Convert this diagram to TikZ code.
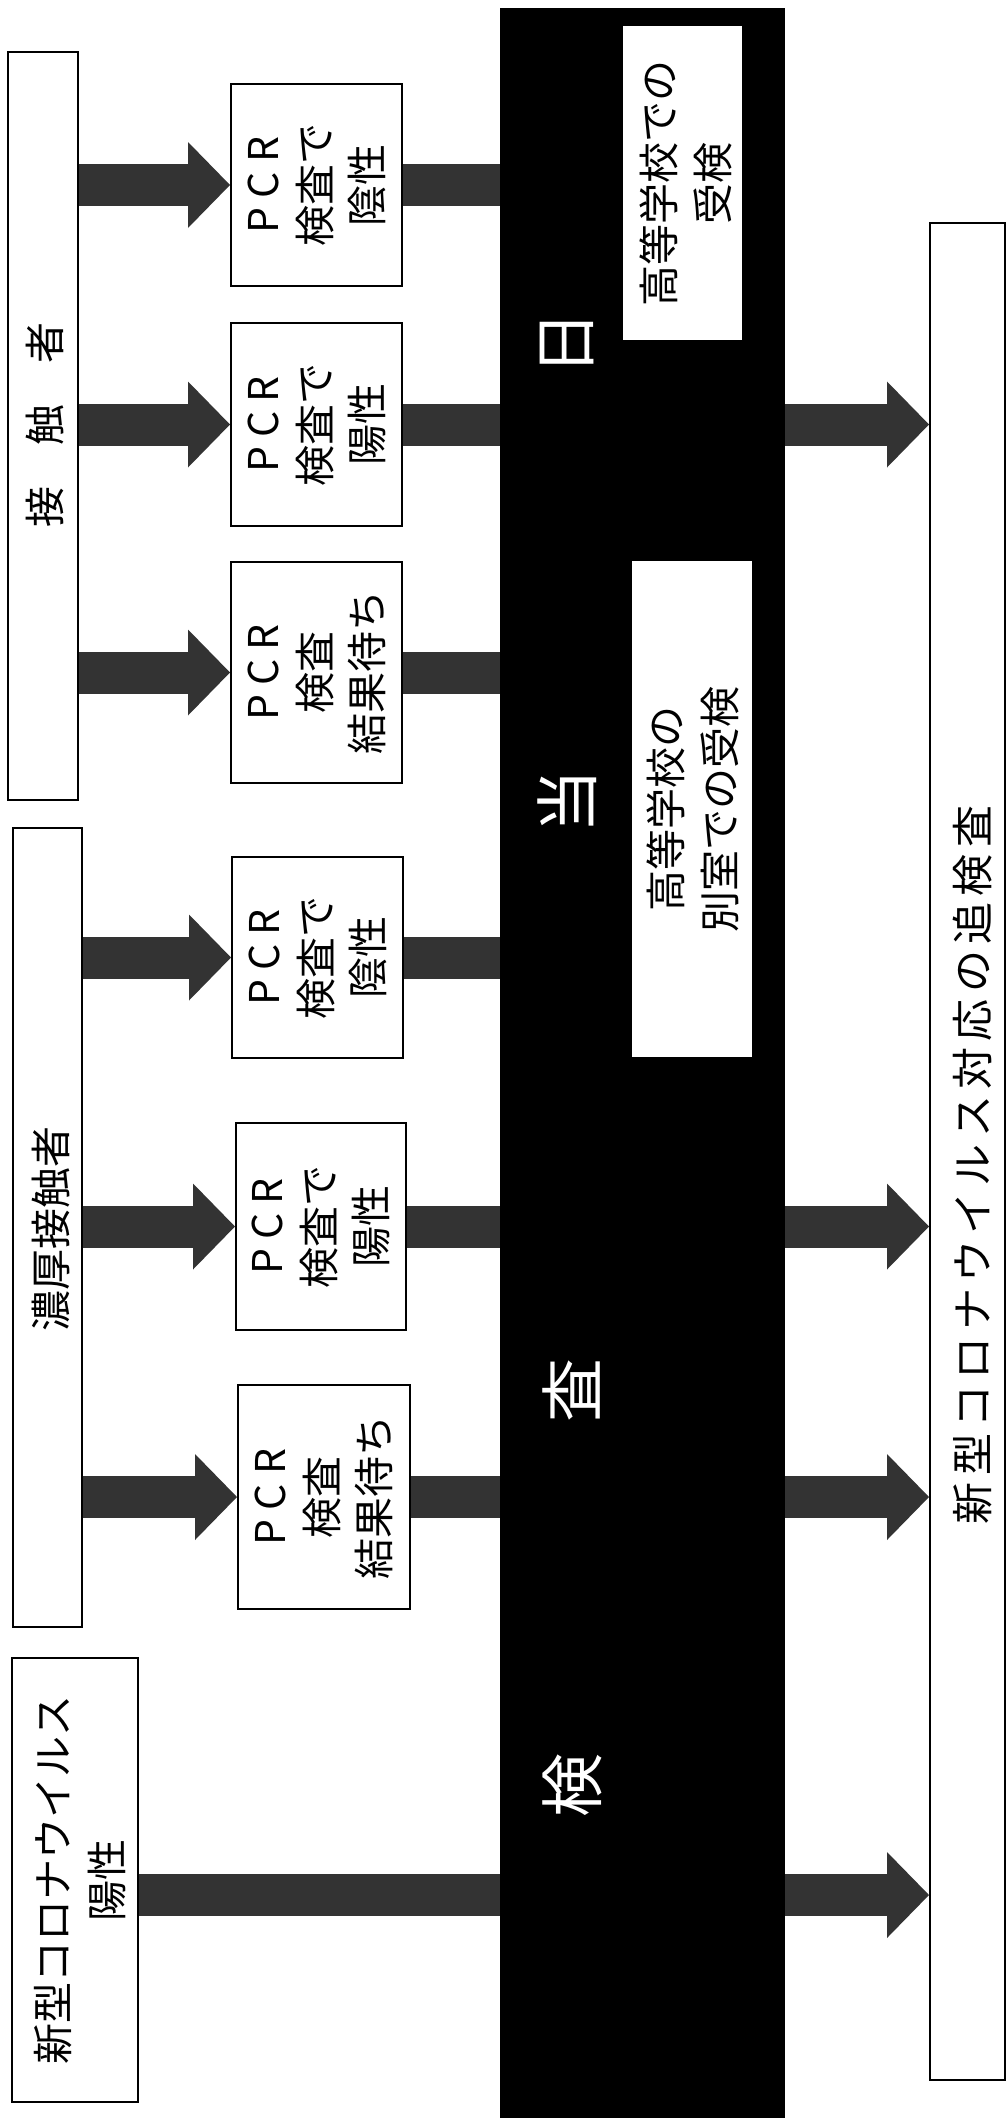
\documentclass[tikz,border=0pt]{standalone}
\usepackage{fontspec}
\newfontfamily\jp{Noto Sans CJK JP}
\usetikzlibrary{arrows.meta,calc}
\definecolor{arrowc}{gray}{0.2}
\begin{document}
\begin{tikzpicture}[x=1pt,y=-1pt,
  box/.style={draw=black,line width=2pt,fill=white,inner sep=0pt},
  txt/.style={font=\jp\fontsize{41}{54}\selectfont,align=center,rotate=90,inner sep=0pt},
  pcrtxt/.style={font=\jp\fontsize{41}{52}\selectfont,align=center,rotate=90,inner sep=0pt},
  bartxt/.style={font=\jp\fontsize{64}{64}\selectfont,text=white,rotate=90,inner sep=0pt},
  bigarrow/.style={draw=arrowc,line width=42pt,-{Triangle[length=42pt,width=86pt,line width=0pt]}},
  plainbar/.style={draw=arrowc,line width=42pt}]
\useasboundingbox (0,0) rectangle (1008,2120);
\fill[white] (0,0) rectangle (1008,2120);

% black bar
\node[fill=black,inner sep=0pt,minimum width=285pt,minimum height=2110pt] (bar) at (642.5,1063) {};
\node[box,draw=none,minimum width=119pt,minimum height=314pt] (wb1) at (682.5,183) {};
\node[box,draw=none,minimum width=120pt,minimum height=496pt] (wb2) at (692,809) {};
\node[txt] (wb1t) at (686,183) {高等学校での\\受検};
\node[txt] (wb2t) at (693,809) {高等学校の\\別室での受検};
\node[bartxt] (d1) at (567,343) {日};
\node[bartxt] (d2) at (567,801) {当};
\node[bartxt] (d3) at (572,1390) {査};
\node[bartxt] (d4) at (572,1785) {検};

% left boxes
\node[box,minimum width=70pt,minimum height=748pt] (bA) at (43,426) {};
\node[box,minimum width=69pt,minimum height=799pt] (bB) at (47.5,1227.5) {};
\node[box,minimum width=126pt,minimum height=444pt] (bC) at (75,1880) {};
\node[txt] (tA) at (45,425) {接　触　者};
\node[txt] (tB) at (51,1229) {濃厚接触者};
\node[txt] (tC) at (80,1880) {新型コロナウイルス\\陽性};

% PCR boxes
\node[box,minimum width=171pt,minimum height=202pt] (p1) at (316.5,185) {};
\node[box,minimum width=171pt,minimum height=203pt] (p2) at (316.5,424.5) {};
\node[box,minimum width=171pt,minimum height=221pt] (p3) at (316.5,672.5) {};
\node[box,minimum width=171pt,minimum height=201pt] (p4) at (317.5,957.5) {};
\node[box,minimum width=170pt,minimum height=207pt] (p5) at (321,1226.5) {};
\node[box,minimum width=172pt,minimum height=224pt] (p6) at (324,1497) {};
\node[pcrtxt] at (p1) {P C R\\検査で\\陰性};
\node[pcrtxt] at (p2) {P C R\\検査で\\陽性};
\node[pcrtxt] at (p3) {P C R\\検査\\結果待ち};
\node[pcrtxt] at (p4) {P C R\\検査で\\陰性};
\node[pcrtxt] at (p5) {P C R\\検査で\\陽性};
\node[pcrtxt] at (p6) {P C R\\検査\\結果待ち};

% right box
\node[box,minimum width=75pt,minimum height=1857pt] (bR) at (967.5,1151.5) {};
\node[txt,font=\jp\fontsize{42}{54}\selectfont\addfontfeature{LetterSpace=15}] (tR) at (973,1165) {新型コロナウイルス対応の追検査};

% arrows from left boxes to PCR boxes
\foreach \p in {p1,p2,p3} \draw[bigarrow] (\p.west -| bA.east) -- (\p.west);
\foreach \p in {p4,p5,p6} \draw[bigarrow] (\p.west -| bB.east) -- (\p.west);

% PCR boxes to bar
\foreach \p in {p1,p2,p3,p4,p5,p6} \draw[plainbar] (\p.east) -- (\p.east -| bar.west);
\coordinate (cC) at ($(bC.east)+(0,15)$);
\draw[plainbar] (cC) -- (cC -| bar.west);

% bar to right box
\foreach \p in {p2,p5,p6} \draw[bigarrow] (\p.east -| bar.east) -- (\p.east -| bR.west);
\draw[bigarrow] (cC -| bar.east) -- (cC -| bR.west);
\end{tikzpicture}
\end{document}
